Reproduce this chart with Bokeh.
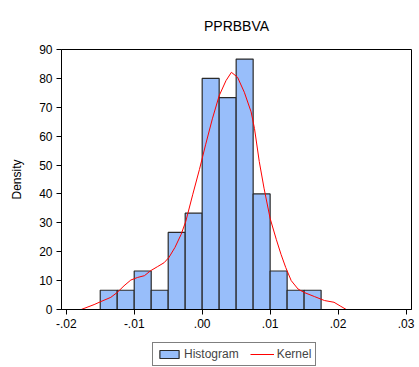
from bokeh.plotting import figure
from bokeh.layouts import column
from bokeh.models import Range1d, FixedTicker, Legend, LegendItem
from bokeh.embed import file_html
from bokeh.resources import INLINE

# Histogram bins (width 0.0025) and densities
bin_left = [-0.015, -0.0125, -0.01, -0.0075, -0.005, -0.0025, 0.0, 0.0025, 0.005, 0.0075, 0.01, 0.0125, 0.015]
bin_right = [-0.0125, -0.01, -0.0075, -0.005, -0.0025, 0.0, 0.0025, 0.005, 0.0075, 0.01, 0.0125, 0.015, 0.0175]
density = [6.67, 6.67, 13.33, 6.67, 26.67, 33.33, 80.0, 73.33, 86.67, 40.0, 13.33, 6.67, 6.67]

# Kernel density estimate
kernel_x = [-0.0178, -0.0159, -0.0149, -0.01345, -0.0125, -0.0115, -0.0105, -0.0095, -0.0085,
            -0.0076, -0.0066, -0.0056, -0.0049, -0.0040, -0.0031, -0.0024, -0.0014, -0.0004,
            0.0005, 0.0015, 0.0025, 0.0035, 0.0043, 0.0052, 0.0062, 0.0072, 0.0077, 0.0084,
            0.0091, 0.0100, 0.0109, 0.0116, 0.0123, 0.0131, 0.0141, 0.0150, 0.0165, 0.0180,
            0.0194, 0.0204, 0.0212]
kernel_y = [0.0, 1.7, 2.75, 4.2, 5.9, 8.2, 10.2, 11.1, 11.7,
            13.4, 14.8, 16.2, 18.0, 21.5, 26.0, 30.6, 39.7, 48.5,
            57.0, 66.0, 74.0, 79.2, 82.1, 80.4, 75.2, 68.4, 62.6, 51.2,
            42.0, 31.5, 24.3, 19.1, 14.5, 10.0, 7.1, 5.9, 4.5, 3.1,
            2.5, 1.1, 0.0]

x_ticks = [-0.02, -0.01, 0.0, 0.01, 0.02, 0.03]
x_tick_labels = ["-.02", "-.01", ".00", ".01", ".02", ".03"]
y_ticks = [0, 10, 20, 30, 40, 50, 60, 70, 80, 90]

FONT = "Liberation Sans"
BAR_FILL = "#98BEFA"
BAR_LINE = "#2a2a2a"

p = figure(width=419, height=340, output_backend="svg", toolbar_location=None,
           title="PPRBBVA",
           x_range=Range1d(-0.0207, 0.0308), y_range=Range1d(0, 90),
           min_border_left=61, min_border_right=8, min_border_top=47, min_border_bottom=31)

p.title.align = "center"
p.title.text_font = FONT
p.title.text_font_size = "14px"
p.title.text_font_style = "normal"
p.title.text_color = "black"
p.title.standoff = 31

p.xgrid.visible = False
p.ygrid.visible = False
p.outline_line_color = "black"
p.outline_line_width = 1
p.background_fill_color = "white"
p.border_fill_color = "white"

hist = p.quad(left=bin_left, right=bin_right, bottom=0, top=density,
              fill_color=BAR_FILL, line_color=BAR_LINE, line_width=1.2)
kern = p.line(kernel_x, kernel_y, line_color="red", line_width=1)

xa = p.xaxis[0]
xa.ticker = FixedTicker(ticks=x_ticks)
xa.major_label_overrides = {t: l for t, l in zip(x_ticks, x_tick_labels)}
ya = p.yaxis[0]
ya.ticker = FixedTicker(ticks=y_ticks)
ya.axis_label = "Density"
ya.axis_label_standoff = 12
ya.axis_label_text_font_style = "normal"

for ax in (xa, ya):
    ax.minor_tick_line_color = None
    ax.major_tick_in = 0
    ax.major_tick_out = 5
    ax.major_label_text_font = FONT
    ax.major_label_text_font_size = "12px"
    ax.major_label_text_color = "black"
    ax.axis_label_text_font = FONT
    ax.axis_label_text_font_size = "12px"
    ax.axis_label_text_color = "black"
    ax.axis_line_color = "black"
    ax.major_tick_line_color = "black"
    ax.major_label_standoff = 4

# Legend strip below the chart (dummy renderers lie outside the visible range)
lg = figure(width=419, height=27, output_backend="svg", toolbar_location=None,
            x_range=Range1d(0, 1), y_range=Range1d(0, 1),
            x_axis_location=None, y_axis_location=None,
            min_border_left=0, min_border_right=0, min_border_top=0, min_border_bottom=0)
lg.grid.visible = False
lg.outline_line_color = None
lg.border_fill_color = "white"
lg.background_fill_color = "white"
h_dummy = lg.quad(left=[5], right=[6], bottom=[5], top=[6],
                  fill_color=BAR_FILL, line_color=BAR_LINE, line_width=1.2)
k_dummy = lg.line(x=[5, 6], y=[5, 6], line_color="red", line_width=1)

legend = Legend(items=[LegendItem(label="Histogram", renderers=[h_dummy]),
                       LegendItem(label="Kernel", renderers=[k_dummy])],
                orientation="horizontal", location=(91, 1),
                border_line_color="black", border_line_width=1,
                background_fill_color="white", background_fill_alpha=1,
                glyph_width=24, glyph_height=10, label_height=12,
                label_standoff=3, spacing=11, padding=4, margin=0,
                label_text_font=FONT, label_text_font_size="12px")
lg.add_layout(legend, "center")

layout = column(p, lg, spacing=0)
open("out.html", "w").write(file_html(layout, INLINE))
